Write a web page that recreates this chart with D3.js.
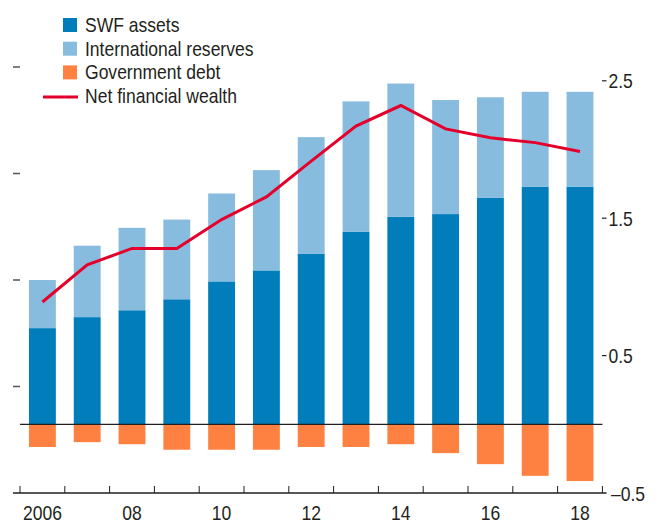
<!DOCTYPE html>
<html>
<head>
<meta charset="utf-8">
<script src="https://cdn.jsdelivr.net/npm/d3@7"></script>
<style>
body{margin:0;background:#fff;}
svg text{font-family:"Liberation Sans",Arial,sans-serif;fill:#231f20;}
</style>
</head>
<body>
<svg id="chart" width="661" height="525"></svg>
<script>
// 数据
var years=[2006,2007,2008,2009,2010,2011,2012,2013,2014,2015,2016,2017,2018];
var yearLabels={2006:"2006",2008:"08",2010:"10",2012:"12",2014:"14",2016:"16",2018:"18"};
var swfAssets=[0.70,0.78,0.83,0.91,1.04,1.12,1.24,1.40,1.51,1.53,1.65,1.73,1.73];
var intlReserves=[0.35,0.52,0.60,0.58,0.64,0.73,0.85,0.95,0.97,0.83,0.73,0.69,0.69];
var govDebt=[-0.165,-0.13,-0.145,-0.185,-0.185,-0.185,-0.165,-0.165,-0.145,-0.21,-0.29,-0.375,-0.413];
var netWealth=[0.89,1.16,1.28,1.28,1.49,1.655,1.915,2.17,2.32,2.15,2.085,2.05,1.985];
var rightTicks=[2.5,1.5,0.5];
var leftTicks=[1,2,3,4];
var legendItems=[
    {name:"SWF assets",color:"#007dba",type:"rect"},
    {name:"International reserves",color:"#88bcdf",type:"rect"},
    {name:"Government debt",color:"#ff8142",type:"rect"},
    {name:"Net financial wealth",color:"#e4002b",type:"line"}
];

var svg=d3.select("#chart");

var x=d3.scaleBand().domain(years).range([20,602.4]).paddingInner(0.4).paddingOuter(0.2);
var y=d3.scaleLinear().domain([-0.5,2.5]).range([493,80.8]);
var yLeft=d3.scaleLinear().domain([0,4]).range([493,67]);

//窄体文字：Arial横向压缩
function narrowText(g,tx,ty,str,size,anchor){
    g.append("text")
        .attr("transform","translate("+tx+","+ty+") scale(0.835,1)")
        .attr("font-size",size)
        .attr("text-anchor",anchor||"start")
        .text(str);
}

//柱子
var bars=svg.append("g");
bars.selectAll(".swf").data(years).enter().append("rect")
    .attr("x",function(d){return x(d);})
    .attr("width",x.bandwidth())
    .attr("y",function(d,i){return y(swfAssets[i]);})
    .attr("height",function(d,i){return y(0)-y(swfAssets[i]);})
    .attr("fill","#007dba");
bars.selectAll(".res").data(years).enter().append("rect")
    .attr("x",function(d){return x(d);})
    .attr("width",x.bandwidth())
    .attr("y",function(d,i){return y(swfAssets[i]+intlReserves[i]);})
    .attr("height",function(d,i){return y(swfAssets[i])-y(swfAssets[i]+intlReserves[i]);})
    .attr("fill","#88bcdf");
bars.selectAll(".debt").data(years).enter().append("rect")
    .attr("x",function(d){return x(d);})
    .attr("width",x.bandwidth())
    .attr("y",y(0))
    .attr("height",function(d,i){return y(govDebt[i])-y(0);})
    .attr("fill","#ff8142");

//零线
svg.append("line")
    .attr("x1",20).attr("x2",602.4)
    .attr("y1",y(0)).attr("y2",y(0))
    .attr("stroke","#231f20").attr("stroke-width",1.2);

//折线
var line=d3.line()
    .x(function(d,i){return x(years[i])+x.bandwidth()/2;})
    .y(function(d){return y(d);});
svg.append("path")
    .datum(netWealth)
    .attr("d",line)
    .attr("fill","none")
    .attr("stroke","#e4002b")
    .attr("stroke-width",3);

//底部坐标轴
var step=x.step();
var edges=d3.range(years.length+1).map(function(k){return 20+k*step;});
svg.append("line")
    .attr("x1",13).attr("x2",606.5)
    .attr("y1",493).attr("y2",493)
    .attr("stroke","#231f20").attr("stroke-width",1.4);
svg.selectAll(".xtick").data(edges).enter().append("line")
    .attr("x1",function(d){return d;}).attr("x2",function(d){return d;})
    .attr("y1",493).attr("y2",486)
    .attr("stroke","#231f20").attr("stroke-width",1);
var xLab=svg.append("g");
years.forEach(function(d){
    if(yearLabels[d])
        narrowText(xLab,x(d)+x.bandwidth()/2,520,yearLabels[d],21,"middle");
});

//右侧坐标轴
svg.selectAll(".rtick").data(rightTicks).enter().append("line")
    .attr("x1",602).attr("x2",606.5)
    .attr("y1",function(d){return y(d);}).attr("y2",function(d){return y(d);})
    .attr("stroke","#231f20").attr("stroke-width",1.2);
var rLab=svg.append("g");
rightTicks.forEach(function(d){
    narrowText(rLab,608.5,y(d)+7.5,d3.format(".1f")(d),21);
});
narrowText(rLab,611,y(-0.5)+7.5,"\u20130.5",21);

//左侧刻度
svg.selectAll(".ltick").data(leftTicks).enter().append("line")
    .attr("x1",13).attr("x2",20)
    .attr("y1",function(d){return yLeft(d);}).attr("y2",function(d){return yLeft(d);})
    .attr("stroke","#555").attr("stroke-width",1.5);

//图例
var legend=svg.append("g");
legendItems.forEach(function(item,i){
    var base=32+i*23.7;
    if(item.type=="rect"){
        legend.append("rect")
            .attr("x",63).attr("y",base-14)
            .attr("width",14).attr("height",14)
            .attr("fill",item.color);
    }else{
        legend.append("line")
            .attr("x1",43).attr("x2",78)
            .attr("y1",base-6).attr("y2",base-6)
            .attr("stroke",item.color).attr("stroke-width",3);
    }
    narrowText(legend,85,base,item.name,21);
});
</script>
</body>
</html>
